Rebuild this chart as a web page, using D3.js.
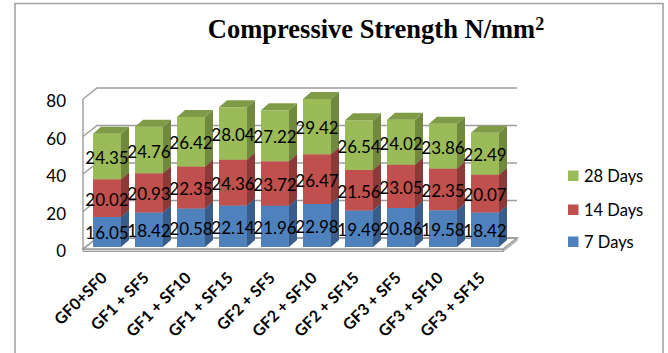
<!DOCTYPE html>
<html>
<head>
<meta charset="utf-8">
<script src="https://cdn.jsdelivr.net/npm/d3@7"></script>
<style>
  html, body { margin: 0; padding: 0; background: #fff; }
  svg { display: block; }
</style>
</head>
<body>
<svg id="chart" width="668" height="353"></svg>
<script>
// Mix designs along the category axis
const categories = ["GF0+SF0", "GF1 + SF5", "GF1 + SF10", "GF1 + SF15", "GF2 + SF5",
                    "GF2 + SF10", "GF2 + SF15", "GF3 + SF5", "GF3 + SF10", "GF3 + SF15"];
// Compressive strength (N/mm²) at each curing age
const days7  = [16.05, 18.42, 20.58, 22.14, 21.96, 22.98, 19.49, 20.86, 19.58, 18.42];
const days14 = [20.02, 20.93, 22.35, 24.36, 23.72, 26.47, 21.56, 23.05, 22.35, 20.07];
const days28 = [24.35, 24.76, 26.42, 28.04, 27.22, 29.42, 26.54, 24.02, 23.86, 22.49];
const seriesNames = ["7 Days", "14 Days", "28 Days"];
const yTicks = [0, 20, 40, 60, 80];

const series = [
  { name: seriesNames[0], values: days7,  front: "#4F81BD", side: "#385D8A", top: "#4672A8" },
  { name: seriesNames[1], values: days14, front: "#C0504D", side: "#8C3A38", top: "#A84643" },
  { name: seriesNames[2], values: days28, front: "#9BBB59", side: "#71893F", top: "#7F9B47" }
];

const svg = d3.select("#chart");

// outer frame
svg.append("path")
  .attr("d", "M15,356 L15,3.5 L663,3.5 L663,356")
  .attr("fill", "none").attr("stroke", "#a3a3a3").attr("stroke-width", 1.6);

// title
const title = svg.append("text")
  .attr("x", 376).attr("y", 38)
  .attr("text-anchor", "middle")
  .attr("font-family", "'Liberation Serif', 'Times New Roman', serif")
  .attr("font-weight", "bold").attr("font-size", 26.5).attr("fill", "#000");
title.append("tspan").text("Compressive Strength N/mm");
title.append("tspan").attr("font-size", 18).attr("dy", -8).text("2");

// scales (front plane of the 3D box)
const x = d3.scaleBand().domain(categories).range([83, 503]);
const y = d3.scaleLinear().domain([0, 80]).range([249, 99]);

// depth offsets: back wall, bar front plane, bar depth
const wall = { dx: 14, dy: -11 };
const barPlane = { dx: 3, dy: -2 };
const barDepth = { dx: 8, dy: -7 };
const barWidth = 28;

const grid = svg.append("g").attr("fill", "none").attr("stroke", "#9c9c9c").attr("stroke-width", 1.4);

// floor slab
const fl = x.range()[0], fr = x.range()[1], fy = y(0);
svg.insert("path", "g")
  .attr("d", `M${fl},${fy} L${fr},${fy} L${fr},${fy + 2.5} L${fl},${fy + 2.5} Z`)
  .attr("fill", "#dcdcdc").attr("stroke", "#9c9c9c").attr("stroke-width", 1);
svg.insert("path", "g")
  .attr("d", `M${fr},${fy} L${fr + wall.dx},${fy + wall.dy} L${fr + wall.dx},${fy + wall.dy + 2.5} L${fr},${fy + 2.5} Z`)
  .attr("fill", "#c8c8c8").attr("stroke", "#9c9c9c").attr("stroke-width", 1);
grid.append("path")
  .attr("d", `M${fl},${fy} L${fr},${fy} L${fr + wall.dx},${fy + wall.dy} L${fl + wall.dx},${fy + wall.dy} Z`)
  .attr("fill", "#fff");

// side wall edge and gridlines on side + back walls
grid.append("line")
  .attr("x1", fl).attr("x2", fl).attr("y1", y(0)).attr("y2", y(80));
yTicks.forEach(t => {
  grid.append("path")
    .attr("d", `M${fl},${y(t)} L${fl + wall.dx},${y(t) + wall.dy} L${fr + wall.dx},${y(t) + wall.dy}`);
});

// y axis labels
svg.append("g").selectAll("text").data(yTicks).join("text")
  .attr("x", 66).attr("y", d => y(d) + 1.5)
  .attr("text-anchor", "end").attr("dominant-baseline", "central")
  .attr("font-family", "Lato, 'Open Sans', sans-serif").attr("font-size", 17).attr("fill", "#000")
  .text(d => d);

// stacked 3D columns
const stacks = categories.map((c, i) => {
  let base = 0;
  return series.map(s => {
    const seg = { cat: c, s, v: s.values[i], y0: base, y1: base + s.values[i] };
    base += s.values[i];
    return seg;
  });
});

const bars = svg.append("g");
stacks.forEach(stack => {
  stack.forEach(seg => {
    const x0 = x(seg.cat) + x.bandwidth() / 2 + barPlane.dx - barWidth / 2;
    const x1 = x0 + barWidth;
    const yb = y(seg.y0) + barPlane.dy;
    const yt = y(seg.y1) + barPlane.dy;
    const g = bars.append("g");
    g.append("path") // front
      .attr("d", `M${x0},${yb} L${x1},${yb} L${x1},${yt} L${x0},${yt} Z`)
      .attr("fill", seg.s.front);
    g.append("path") // side
      .attr("d", `M${x1},${yb} L${x1 + barDepth.dx},${yb + barDepth.dy} L${x1 + barDepth.dx},${yt + barDepth.dy} L${x1},${yt} Z`)
      .attr("fill", seg.s.side);
    g.append("path") // top
      .attr("d", `M${x0},${yt} L${x1},${yt} L${x1 + barDepth.dx},${yt + barDepth.dy} L${x0 + barDepth.dx},${yt + barDepth.dy} Z`)
      .attr("fill", seg.s.top);
  });
});

// value labels centred on each segment's front face
const labels = svg.append("g")
  .attr("font-family", "Lato, 'Open Sans', sans-serif").attr("font-size", 17).attr("fill", "#000")
  .attr("text-anchor", "middle").attr("dominant-baseline", "central");
stacks.flat().forEach(seg => {
  labels.append("text")
    .attr("x", x(seg.cat) + x.bandwidth() / 2 + barPlane.dx)
    .attr("y", (y(seg.y0) + y(seg.y1)) / 2 + barPlane.dy + 1)
    .text(seg.v.toFixed(2));
});

// category labels, rotated
svg.append("g").selectAll("text").data(categories).join("text")
  .attr("transform", d => `translate(${x(d) + x.bandwidth() / 2 + 4},279) rotate(-45)`)
  .attr("text-anchor", "end")
  .attr("font-family", "Lato, 'Open Sans', sans-serif").attr("font-weight", "bold")
  .attr("font-size", 16).attr("fill", "#000")
  .text(d => d);

// legend
const legendRows = [series[2], series[1], series[0]];
const legendY = [175.5, 209.5, 241.5];
const legend = svg.append("g");
legendRows.forEach((s, i) => {
  legend.append("rect").attr("x", 568).attr("y", legendY[i] - 5).attr("width", 10.5).attr("height", 10.5)
    .attr("fill", s.front);
  legend.append("text").attr("x", 584).attr("y", legendY[i] + 0.5)
    .attr("dominant-baseline", "central")
    .attr("font-family", "Lato, 'Open Sans', sans-serif").attr("font-size", 16.5).attr("fill", "#000")
    .text(s.name);
});
</script>
</body>
</html>
